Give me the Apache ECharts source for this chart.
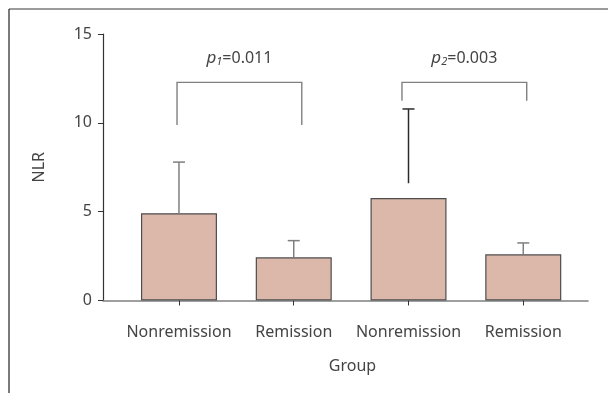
<!DOCTYPE html>
<html>
<head>
<meta charset="utf-8">
<script src="https://cdn.jsdelivr.net/npm/echarts@6/dist/echarts.min.js"></script>
<style>
  html,body{margin:0;padding:0;background:#fff;}
  #chart{width:608px;height:393px;}
</style>
</head>
<body>
<div id="chart"></div>
<script>
// groups along x (positions 1..4)
var groups = ['Nonremission', 'Remission', 'Nonremission', 'Remission'];
var positions = [1, 2, 3, 4];
// mean NLR per group
var means = [4.91, 2.43, 5.77, 2.6];
// error bar stem start / end
var errLow = [4.91, 2.43, 6.6, 2.6];
var errHigh = [7.79, 3.37, 10.78, 3.24];
// brackets: [xStart, xEnd, top, leftBottom, rightBottom]
var bracket1 = [0.983, 2.07, 12.28, 9.88, 9.88];
var bracket2 = [2.943, 4.03, 12.28, 11.24, 11.24];
var pSub = ['1', '2'];
var pVals = ['0.011', '0.003'];
var yTicks = [0, 5, 10, 15];

var errColors = ['#7f7f7f', '#7f7f7f', '#2b2b2b', '#7f7f7f'];
var font = 'Noto Sans';

var myChart = echarts.init(document.getElementById('chart'));

var barData = positions.map(function (x, i) { return [x, means[i]]; });
var errData = positions.map(function (x, i) { return [x, errLow[i], errHigh[i], i]; });
var bracketData = [bracket1.concat([0]), bracket2.concat([1])];

var option = {
  animation: false,
  textStyle: { fontFamily: font },
  graphic: [
    // frame lines around figure
    { type: 'line', shape: { x1: 9, y1: 9, x2: 608, y2: 9 }, style: { stroke: '#7a7a7a', lineWidth: 1.5 } },
    { type: 'line', shape: { x1: 9, y1: 9, x2: 9, y2: 393 }, style: { stroke: '#222', lineWidth: 1.2 } }
  ],
  grid: { left: 103, right: 20, top: 34, bottom: 92.5 },
  xAxis: {
    type: 'value',
    min: 0.338,
    max: 4.564,
    name: 'Group',
    nameLocation: 'middle',
    nameGap: 58,
    nameTextStyle: { color: '#444', fontSize: 16, padding: [0, 0, 0, 14] },
    axisLine: { show: true, lineStyle: { color: '#808080', width: 1.6 } },
    axisTick: { show: true, length: 5, inside: false, customValues: positions, lineStyle: { color: '#333' } },
    axisLabel: {
      customValues: positions,
      margin: 24,
      color: '#444',
      fontSize: 16,
      formatter: function (v) { return groups[Math.round(v) - 1]; }
    },
    splitLine: { show: false }
  },
  yAxis: {
    type: 'value',
    min: 0,
    max: 15,
    interval: 5,
    name: 'NLR',
    nameLocation: 'middle',
    nameGap: 56,
    nameTextStyle: { color: '#444', fontSize: 16 },
    axisLine: { show: true, lineStyle: { color: '#333', width: 1.2 } },
    axisTick: { show: true, length: 5, lineStyle: { color: '#333' } },
    axisLabel: { margin: 11, color: '#444', fontSize: 16 },
    splitLine: { show: false }
  },
  series: [
    {
      type: 'bar',
      data: barData,
      barWidth: 76,
      itemStyle: { color: '#dbb8aa', borderColor: '#4d4d4d', borderWidth: 1.2 },
      z: 2
    },
    {
      type: 'custom',
      data: errData,
      z: 3,
      renderItem: function (params, api) {
        var x = api.value(0);
        var lo = api.coord([x, api.value(1)]);
        var hi = api.coord([x, api.value(2)]);
        var c = errColors[api.value(3)];
        return {
          type: 'group',
          children: [
            { type: 'line', shape: { x1: lo[0], y1: lo[1], x2: hi[0], y2: hi[1] }, style: { stroke: c, lineWidth: 1.5 } },
            { type: 'line', shape: { x1: hi[0] - 6, y1: hi[1], x2: hi[0] + 6, y2: hi[1] }, style: { stroke: c, lineWidth: 1.5 } }
          ]
        };
      }
    },
    {
      type: 'custom',
      data: bracketData,
      z: 3,
      renderItem: function (params, api) {
        var a = api.coord([api.value(0), api.value(3)]);
        var b = api.coord([api.value(0), api.value(2)]);
        var c = api.coord([api.value(1), api.value(2)]);
        var d = api.coord([api.value(1), api.value(4)]);
        var k = api.value(5);
        return {
          type: 'group',
          children: [
            {
              type: 'polyline',
              shape: { points: [a, b, c, d] },
              style: { stroke: '#808080', lineWidth: 1.4, fill: null }
            },
            {
              type: 'text',
              x: (b[0] + c[0]) / 2,
              y: b[1] - 24,
              style: {
                text: '{p|p}{s|' + pSub[k] + '}{n|=' + pVals[k] + '}',
                align: 'center',
                verticalAlign: 'middle',
                rich: {
                  p: { fontFamily: font, fontSize: 17, fontStyle: 'italic', fill: '#444' },
                  s: { fontFamily: font, fontSize: 11, fontStyle: 'italic', fill: '#444', padding: [8, 0, 0, 0] },
                  n: { fontFamily: font, fontSize: 16, fill: '#444' }
                }
              }
            }
          ]
        };
      }
    }
  ]
};

myChart.setOption(option);
</script>
</body>
</html>
